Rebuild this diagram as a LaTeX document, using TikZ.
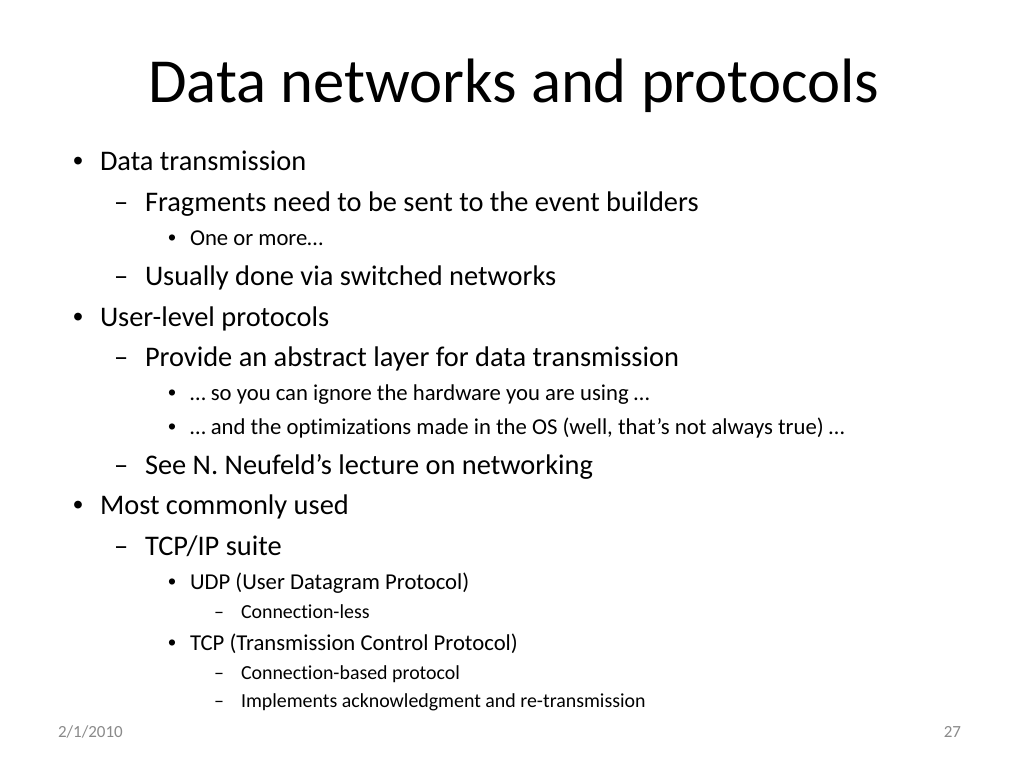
\documentclass[tikz,border=0pt]{standalone}
\usepackage{fontspec}
\setmainfont{Carlito}[Ligatures=NoCommon]
\newfontfamily\bulletfont{Liberation Sans}
\begin{document}
\begin{tikzpicture}[x=1pt,y=-1pt,
  every node/.style={inner sep=0pt,outer sep=0pt},
  ttl/.style={anchor=base west,font=\fontsize{62.7}{70}\selectfont},
  lone/.style={anchor=base west,font=\fontsize{28.4}{34}\selectfont},
  ltwo/.style={anchor=base west,font=\fontsize{28.4}{34}\selectfont},
  lthree/.style={anchor=base west,font=\fontsize{22.7}{27}\selectfont},
  lfour/.style={anchor=base west,font=\fontsize{19.9}{24}\selectfont},
  foot/.style={font=\fontsize{17}{20}\selectfont,text=black!46}]
\fill[white] (0,0) rectangle (1024,768);
\useasboundingbox (0,0) rectangle (1024,768);
\node[ttl] (title) at (148,102) {Data networks and protocols};
% level 1
\node[lone] (b1) at (73,170) {\bulletfont •};
\node[lone] (t1) at (100,170) {Data transmission};
\node[ltwo] (d11) at (114,211) {–};
\node[ltwo] (t11) at (145,211) {Fragments need to be sent to the event builders};
\node[lthree] (b111) at (168,245) {\bulletfont •};
\node[lthree] (t111) at (190,245) {One or more…};
\node[ltwo] (d12) at (114,285) {–};
\node[ltwo] (t12) at (145,285) {Usually done via switched networks};
\node[lone] (b2) at (73,326) {\bulletfont •};
\node[lone] (t2) at (100,326) {User-level protocols};
\node[ltwo] (d21) at (114,366) {–};
\node[ltwo] (t21) at (145,366) {Provide an abstract layer for data transmission};
\node[lthree] (b211) at (168,400) {\bulletfont •};
\node[lthree] (t211) at (190,400) {… so you can ignore the hardware you are using …};
\node[lthree] (b212) at (168,434) {\bulletfont •};
\node[lthree] (t212) at (190,434) {… and the optimizations made in the OS (well, that’s not always true) …};
\node[ltwo] (d22) at (114,474) {–};
\node[ltwo] (t22) at (145,474) {See N. Neufeld’s lecture on networking};
\node[lone] (b3) at (73,514) {\bulletfont •};
\node[lone] (t3) at (100,514) {Most commonly used};
\node[ltwo] (d31) at (114,555) {–};
\node[ltwo] (t31) at (145,555) {TCP/IP suite};
\node[lthree] (b311) at (168,589) {\bulletfont •};
\node[lthree] (t311) at (190,589) {UDP (User Datagram Protocol)};
\node[lfour] (d3111) at (214,618) {–};
\node[lfour] (t3111) at (241,618) {Connection-less};
\node[lthree] (b312) at (168,650) {\bulletfont •};
\node[lthree] (t312) at (190,650) {TCP (Transmission Control Protocol)};
\node[lfour] (d3121) at (214,679) {–};
\node[lfour] (t3121) at (241,679) {Connection-based protocol};
\node[lfour] (d3122) at (214,707) {–};
\node[lfour] (t3122) at (241,707) {Implements acknowledgment and re-transmission};
% footer
\node[foot,anchor=base west] (date) at (58,737) {2/1/2010};
\node[foot,anchor=base east] (page) at (961,737) {27};
\end{tikzpicture}
\end{document}
